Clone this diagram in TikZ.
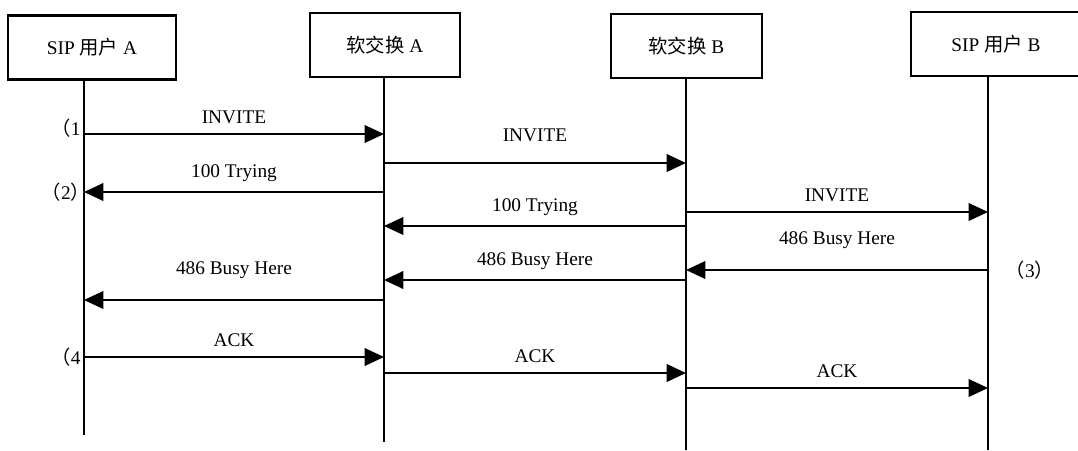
\documentclass[tikz,border=0pt]{standalone}
\usepackage{fontspec}
\setmainfont{Liberation Serif}
\newfontfamily\cjk{Noto Sans CJK SC}
\usetikzlibrary{arrows.meta}
\begin{document}
\begin{tikzpicture}[x=0.02cm,y=-0.02cm,
  every node/.style={font=\fontsize{11}{13}\selectfont},
  actor/.style={draw,line width=1.2pt,minimum height=1.28cm,inner sep=0pt},
  life/.style={line width=1.1pt},
  msg/.style={line width=1.1pt,-{Triangle[length=11pt,width=10pt]}},
  lbl/.style={above=2pt,midway}]
\useasboundingbox (0,0) rectangle (1078,450);
\node[actor,minimum width=3.36cm] (ua) at (92,47.5) {SIP {\cjk 用户} A};
\node[actor,minimum width=3.0cm] (sa) at (385,45) {{\cjk 软交换} A};
\node[actor,minimum width=3.02cm] (sb) at (686.5,46) {{\cjk 软交换} B};
\node[actor,minimum width=3.4cm] (ub) at (996,44) {SIP {\cjk 用户} B};
\coordinate (ea) at (84,435);
\coordinate (esa) at (384,442);
\coordinate (esb) at (686,450);
\coordinate (eub) at (988,450);
\draw[life] (84,80) -- (ea);
\draw[life] (384,77) -- (esa);
\draw[life] (686,79) -- (esb);
\draw[life] (988,76) -- (eub);
% messages
\coordinate (a1) at (84,134); \coordinate (b1) at (384,134);
\draw[msg] (a1) -- node[lbl]{INVITE} (b1);
\coordinate (a2) at (384,163); \coordinate (b2) at (686,163);
\draw[msg] (a2) -- node[lbl,above=6pt]{INVITE} (b2);
\coordinate (a3) at (384,192); \coordinate (b3) at (84,192);
\draw[msg] (a3) -- node[lbl]{100 Trying} (b3);
\coordinate (a4) at (686,212); \coordinate (b4) at (988,212);
\draw[msg] (a4) -- node[lbl]{INVITE} (b4);
\coordinate (a5) at (686,226); \coordinate (b5) at (384,226);
\draw[msg] (a5) -- node[lbl]{100 Trying} (b5);
\coordinate (a6) at (988,270); \coordinate (b6) at (686,270);
\draw[msg] (a6) -- node[lbl,above=6pt]{486 Busy Here} (b6);
\coordinate (a7) at (686,280); \coordinate (b7) at (384,280);
\draw[msg] (a7) -- node[lbl]{486 Busy Here} (b7);
\coordinate (a8) at (384,300); \coordinate (b8) at (84,300);
\draw[msg] (a8) -- node[lbl,above=6pt]{486 Busy Here} (b8);
\coordinate (a9) at (84,357); \coordinate (b9) at (384,357);
\draw[msg] (a9) -- node[lbl]{ACK} (b9);
\coordinate (a10) at (384,373); \coordinate (b10) at (686,373);
\draw[msg] (a10) -- node[lbl]{ACK} (b10);
\coordinate (a11) at (686,388); \coordinate (b11) at (988,388);
\draw[msg] (a11) -- node[lbl]{ACK} (b11);
% step labels
\node (s1) at (66,128) {{\cjk （}1};
\node (s2) at (66,192) {{\cjk （}2{\cjk ）}};
\node (s3) at (1030,270) {{\cjk （}3{\cjk ）}};
\node (s4) at (66,357) {{\cjk （}4};
\end{tikzpicture}
\end{document}
